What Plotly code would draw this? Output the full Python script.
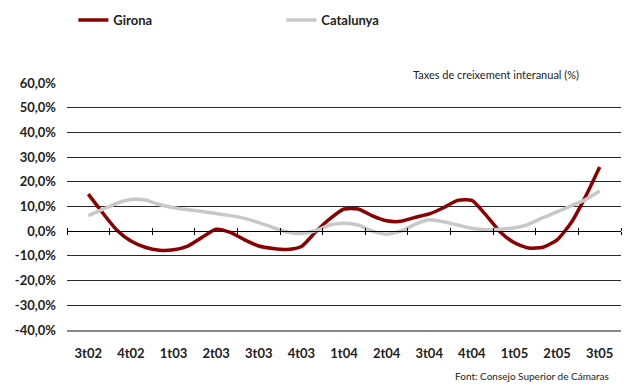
import plotly.graph_objects as go

quarters = ["3t02", "4t02", "1t03", "2t03", "3t03", "4t03", "1t04", "2t04",
            "3t04", "4t04", "1t05", "2t05", "3t05"]

# monthly-resolution readings (3 per quarter), starting at 3t02 and ending at 3t05
girona = [15.0, 7.5, 0.5, -4.0, -6.5, -7.7, -7.5, -6.0, -2.5, 0.8, -0.5, -3.5,
          -6.0, -7.0, -7.4, -6.2, -0.3, 5.0, 9.0, 9.0, 6.2, 4.2, 4.0, 5.6,
          7.0, 9.5, 12.5, 12.5, 6.5, -0.3, -4.7, -6.8, -6.5, -3.5, 3.5, 14.0, 26.0]
catalunya = [6.3, 8.8, 11.3, 12.8, 12.6, 10.8, 9.5, 8.7, 8.0, 7.2, 6.3, 5.2,
             3.5, 1.5, -0.3, -0.9, 0.2, 2.5, 3.2, 2.5, 0.0, -1.2, 0.0, 2.8,
             4.6, 3.8, 2.5, 1.2, 0.6, 0.8, 1.4, 2.8, 5.5, 7.8, 10.3, 12.8, 16.3]

y_ticks = [60, 50, 40, 30, 20, 10, 0, -10, -20, -30, -40]
y_tick_text = ["60,0%", "50,0%", "40,0%", "30,0%", "20,0%", "10,0%", "0,0%",
               "-10,0%", "-20,0%", "-30,0%", "-40,0%"]

x_pos = [i / 3 for i in range(len(girona))]
q_pos = list(range(len(quarters)))
boundaries = [i - 0.5 for i in range(len(quarters) + 1)]

FONT = "Lato"

fig = go.Figure()
fig.add_trace(go.Scatter(x=x_pos, y=girona, name="Girona", mode="lines",
                         line=dict(color="#8B0000", width=3.5, shape="spline", smoothing=0.6)))
fig.add_trace(go.Scatter(x=x_pos, y=catalunya, name="Catalunya", mode="lines",
                         line=dict(color="#C8C8C8", width=3.5, shape="spline", smoothing=0.6)))

ymin, ymax = -40, 60
zero_pos = (0 - ymin) / (ymax - ymin)

fig.update_layout(
    width=629, height=385,
    margin=dict(l=67, r=8, t=83, b=55, autoexpand=False),
    plot_bgcolor="white", paper_bgcolor="white",
    font=dict(family=FONT, color="#222222", size=12),
    showlegend=True,
    legend=dict(orientation="h", x=0.0115, y=1.255, xanchor="left", yanchor="middle",
                entrywidth=163, font=dict(size=13, family=FONT, color="#222", weight="bold"),
                itemwidth=30, tracegroupgap=0),
    xaxis=dict(range=[-0.5, 12.5], tickvals=q_pos, ticktext=quarters,
               showgrid=False, zeroline=False, showline=True, linecolor="#888888",
               linewidth=2, ticks="", ticklabelstandoff=10,
               tickfont=dict(size=13, family=FONT, color="#222", weight="bold")),
    xaxis2=dict(range=[-0.5, 12.5], overlaying="x", anchor="free", position=zero_pos,
                side="bottom", tickvals=boundaries, showticklabels=False,
                ticks="outside", ticklen=3, tickcolor="#000", tickwidth=1,
                showline=True, linecolor="#000", linewidth=1, showgrid=False, zeroline=False),
    xaxis3=dict(range=[-0.5, 12.5], overlaying="x", anchor="free", position=zero_pos,
                side="top", tickvals=boundaries, showticklabels=False,
                ticks="outside", ticklen=3, tickcolor="#000", tickwidth=1,
                showline=False, showgrid=False, zeroline=False),
    yaxis=dict(range=[ymin, ymax], tickvals=y_ticks, ticktext=y_tick_text,
               showgrid=True, gridcolor="#2a2a2a", gridwidth=1, zeroline=False,
               showline=False, ticks="", ticklabelstandoff=10,
               tickfont=dict(size=13, family=FONT, color="#222", weight="bold")),
    annotations=[
        dict(text="Taxes de creixement interanual (%)", xref="paper", yref="paper",
             x=0.927, y=1.0, xanchor="right", yanchor="bottom", showarrow=False,
             font=dict(size=11, family=FONT, color="#222")),
        dict(text="Font: Consejo Superior de Cámaras", xref="paper", yref="paper",
             x=0.696, y=-0.2186, xanchor="left", yanchor="bottom", showarrow=False,
             font=dict(size=10, family=FONT, color="#222")),
    ],
)
# dummy traces to activate extra axes
fig.add_trace(go.Scatter(x=[None], y=[None], xaxis="x2", showlegend=False, hoverinfo="skip"))
fig.add_trace(go.Scatter(x=[None], y=[None], xaxis="x3", showlegend=False, hoverinfo="skip"))

fig.write_html("out.html", config={"displayModeBar": False},
               post_script="document.body.style.margin='0';document.body.style.padding='0';")
